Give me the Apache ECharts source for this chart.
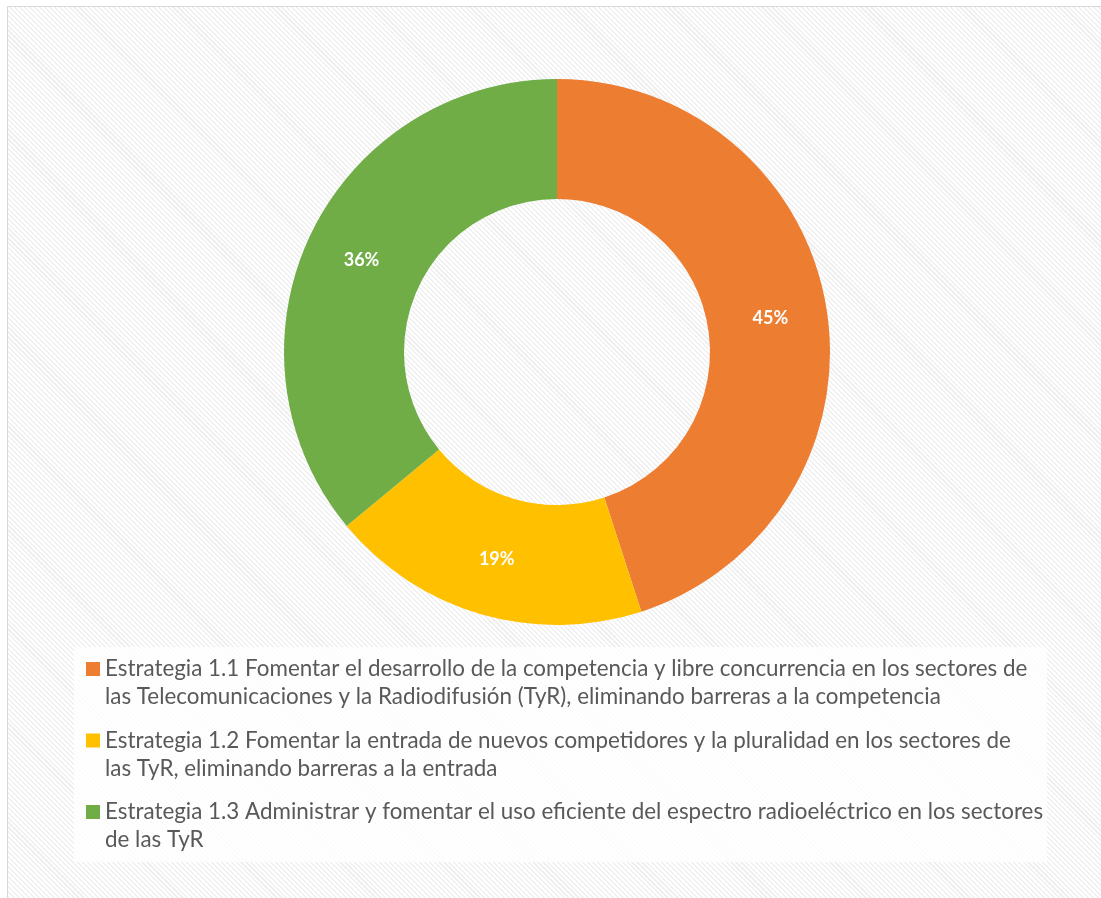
<!DOCTYPE html>
<html>
<head>
<meta charset="utf-8">
<script src="https://cdn.jsdelivr.net/npm/echarts@6/dist/echarts.min.js"></script>
<style>
  html, body { margin: 0; padding: 0; background: #ffffff; overflow: hidden; width: 1101px; height: 898px; }
  #frame {
    position: absolute; left: 7px; top: 6px; width: 1110px; height: 910px;
    border: 1px solid #d9d9d9; box-sizing: border-box;
    background: repeating-linear-gradient(45deg, #ffffff 0px, #ffffff 2px, #f0f0f0 2px, #f0f0f0 3.5px);
  }
  #chart { position: absolute; left: 0; top: 0; width: 1101px; height: 898px; }
</style>
</head>
<body>
<div id="frame"></div>
<div id="chart"></div>
<script>
const categories = [
  'Estrategia 1.1 Fomentar el desarrollo de la competencia y libre concurrencia en los sectores de las Telecomunicaciones y la Radiodifusión (TyR), eliminando barreras a la competencia',
  'Estrategia 1.2 Fomentar la entrada de nuevos competidores y la pluralidad en los sectores de las TyR, eliminando barreras a la entrada',
  'Estrategia 1.3 Administrar y fomentar el uso eficiente del espectro radioeléctrico en los sectores de las TyR'
];
const values = [45, 19, 36];
const colors = ['#ED7D31', '#FFC000', '#70AD47'];
// first line of each wrapped legend entry, as wrapped in the original
const legendFirstLines = [
  'Estrategia 1.1 Fomentar el desarrollo de la competencia y libre concurrencia en los sectores de',
  'Estrategia 1.2 Fomentar la entrada de nuevos competidores y la pluralidad en los sectores de',
  'Estrategia 1.3 Administrar y fomentar el uso eficiente del espectro radioeléctrico en los sectores'
];

// legend marker: 14x14 square placed at the first text line of a 56px-tall item
const markerIcon = 'path://M0,0L0,0M0,56L0,56M0,7L14,7L14,21L0,21Z';

const chart = echarts.init(document.getElementById('chart'), null, { renderer: 'canvas' });
chart.setOption({
  backgroundColor: 'transparent',
  animation: false,
  color: colors,
  legend: {
    orient: 'vertical',
    left: 74,
    top: 647,
    padding: [8, 4, 8, 12],
    backgroundColor: 'rgba(255,255,255,0.8)',
    itemWidth: 14,
    itemHeight: 56,
    itemGap: 15.5,
    icon: markerIcon,
    data: categories,
    formatter: function (name) {
      const i = categories.indexOf(name);
      const first = legendFirstLines[i];
      return first + '\n' + name.slice(first.length).trim();
    },
    textStyle: {
      fontFamily: 'Lato',
      fontSize: 22.4,
      color: '#595959',
      lineHeight: 28
    }
  },
  series: [{
    type: 'pie',
    center: [557, 352],
    radius: [153, 273],
    startAngle: 90,
    clockwise: true,
    avoidLabelOverlap: false,
    label: {
      show: true,
      position: 'inside',
      formatter: '{d}%',
      color: '#ffffff',
      fontFamily: 'Lato',
      fontWeight: 'bold',
      fontSize: 18
    },
    labelLine: { show: false },
    itemStyle: { borderWidth: 0 },
    emphasis: { disabled: true },
    data: categories.map((c, i) => ({ name: c, value: values[i] }))
  }]
});
</script>
</body>
</html>
